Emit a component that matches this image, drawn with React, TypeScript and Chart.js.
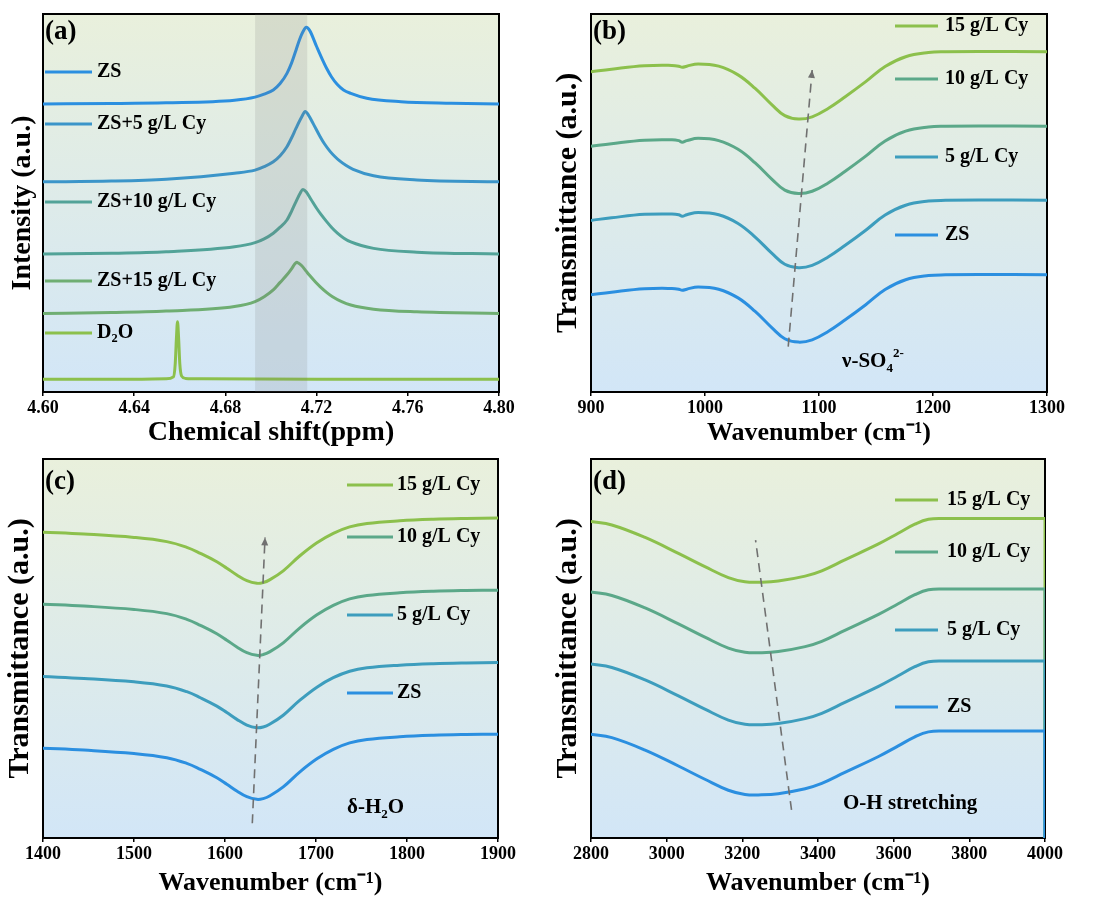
import React, { useEffect, useRef } from "react";
import { Chart, registerables } from "chart.js";

Chart.register(...registerables);

const FONT = '"Liberation Serif", "Times New Roman", serif';

// ---------- (a) 1H NMR ----------
const nmrZsX = [4.6, 4.63, 4.654, 4.684, 4.693, 4.697, 4.701, 4.704, 4.707, 4.709, 4.711, 4.7125, 4.714, 4.7155, 4.717, 4.72, 4.7225, 4.7245, 4.7265, 4.729, 4.7318, 4.735, 4.742, 4.757, 4.779, 4.8];
const nmrZsY = [76.2, 76.3, 76.5, 77.2, 78.0, 78.8, 79.9, 81.6, 84.3, 87.0, 90.5, 93.2, 95.3, 96.5, 95.6, 91.4, 88.0, 85.5, 83.4, 81.4, 79.9, 79.0, 77.7, 76.8, 76.4, 76.2];
const nmrZs5X = [4.6, 4.63, 4.654, 4.684, 4.693, 4.697, 4.701, 4.704, 4.707, 4.709, 4.711, 4.7135, 4.715, 4.7165, 4.7185, 4.7215, 4.7235, 4.726, 4.728, 4.73, 4.733, 4.736, 4.745, 4.764, 4.8];
const nmrZs5Y = [55.6, 55.8, 56.3, 57.9, 58.7, 59.6, 60.9, 62.5, 64.9, 67.2, 69.8, 72.8, 74.2, 73.2, 71.0, 67.6, 65.6, 63.6, 62.3, 61.2, 59.9, 58.9, 57.2, 56.1, 55.6];
const nmrZs10X = [4.6, 4.63, 4.654, 4.684, 4.693, 4.697, 4.701, 4.704, 4.707, 4.709, 4.7106, 4.7128, 4.714, 4.7155, 4.7175, 4.72, 4.722, 4.7245, 4.7265, 4.729, 4.732, 4.735, 4.745, 4.764, 4.8];
const nmrZs10Y = [36.5, 36.7, 37.1, 38.4, 39.5, 40.5, 42.0, 43.6, 45.5, 47.8, 49.9, 52.6, 53.6, 52.9, 51.0, 48.6, 46.9, 45.0, 43.6, 42.1, 40.7, 39.7, 38.0, 37.0, 36.5];
const nmrZs15X = [4.6, 4.63, 4.654, 4.684, 4.693, 4.697, 4.701, 4.704, 4.707, 4.709, 4.7105, 4.7113, 4.712, 4.7135, 4.7155, 4.717, 4.7195, 4.7215, 4.7245, 4.727, 4.731, 4.735, 4.745, 4.764, 4.8];
const nmrZs15Y = [20.8, 21.0, 21.4, 22.6, 23.9, 25.2, 27.0, 29.0, 31.0, 32.6, 33.9, 34.3, 34.1, 33.4, 31.9, 30.8, 29.1, 27.9, 26.3, 25.2, 23.9, 23.0, 21.9, 21.2, 20.8];
const nmrD2oX = [4.6, 4.64, 4.654, 4.6572, 4.658, 4.6585, 4.659, 4.6595, 4.66, 4.6608, 4.6625, 4.67, 4.72, 4.8];
const nmrD2oY = [3.4, 3.4, 3.5, 4.0, 7.5, 14.0, 18.6, 14.0, 7.5, 4.2, 3.6, 3.5, 3.4, 3.4];
const nmrBandX = [4.693, 4.716];
const nmrBandY = [100, 100];

// ---------- (b) SO4 ----------
const so4Wn = [900, 918, 947, 971, 977, 980, 984, 994, 1012, 1029, 1044, 1059, 1070, 1082, 1094, 1108, 1123, 1141, 1158, 1176, 1196, 1211, 1240, 1300];
const so4Cy15 = [84.7, 85.4, 86.3, 86.4, 86.2, 85.9, 86.2, 86.8, 86.2, 83.9, 80.3, 75.9, 73.1, 72.2, 72.8, 75.0, 78.1, 82.1, 86.1, 88.7, 89.8, 90.0, 90.1, 90.0];
const so4Cy10 = [65.0, 65.7, 66.6, 66.7, 66.5, 66.1, 66.5, 67.1, 66.5, 64.2, 60.6, 56.2, 53.4, 52.5, 53.1, 55.3, 58.4, 62.4, 66.4, 69.0, 70.1, 70.3, 70.4, 70.3];
const so4Cy5 = [45.4, 46.1, 47.0, 47.1, 46.9, 46.5, 46.9, 47.5, 46.9, 44.6, 41.0, 36.6, 33.8, 32.9, 33.5, 35.7, 38.8, 42.8, 46.8, 49.4, 50.5, 50.7, 50.8, 50.7];
const so4Zs = [25.7, 26.4, 27.3, 27.4, 27.2, 26.9, 27.2, 27.8, 27.2, 24.9, 21.3, 16.9, 14.1, 13.2, 13.8, 16.0, 19.1, 23.1, 27.1, 29.7, 30.8, 31.0, 31.1, 31.0];
const so4GuideX = [1073, 1094];
const so4GuideY = [12.0, 85.2];

// ---------- (c) H2O bending ----------
const h2oWn = [1400, 1445, 1500, 1536, 1558, 1573, 1591, 1602, 1613, 1624, 1635, 1642, 1649, 1664, 1682, 1701, 1719, 1737, 1756, 1792, 1829, 1865, 1900];
const h2oCy15 = [80.7, 80.2, 79.3, 78.2, 76.7, 75.1, 72.9, 71.2, 69.4, 67.9, 67.2, 67.4, 68.1, 70.5, 74.4, 77.9, 80.4, 82.1, 83.0, 83.7, 84.1, 84.3, 84.4];
const h2oCy10 = [61.7, 61.2, 60.3, 59.2, 57.7, 56.1, 53.9, 52.2, 50.4, 48.9, 48.2, 48.4, 49.1, 51.5, 55.4, 58.9, 61.4, 63.1, 64.0, 64.7, 65.1, 65.3, 65.4];
const h2oCy5 = [42.6, 42.1, 41.2, 40.1, 38.6, 37.0, 34.8, 33.1, 31.3, 29.8, 29.1, 29.3, 30.0, 32.4, 36.3, 39.8, 42.3, 44.0, 44.9, 45.6, 46.0, 46.2, 46.3];
const h2oZs = [23.7, 23.2, 22.3, 21.2, 19.7, 18.1, 15.9, 14.2, 12.4, 10.9, 10.2, 10.4, 11.1, 13.5, 17.4, 20.9, 23.4, 25.1, 26.0, 26.7, 27.1, 27.3, 27.4];
const h2oGuideX = [1630, 1644];
const h2oGuideY = [3.9, 79.3];

// ---------- (d) O-H stretching ----------
const ohWn = [2800, 2855, 2943, 3031, 3101, 3163, 3207, 3251, 3295, 3366, 3410, 3471, 3560, 3612, 3656, 3692, 3736, 4000];
const ohCy15 = [83.5, 82.6, 79.3, 75.1, 71.6, 68.7, 67.6, 67.5, 67.8, 69.1, 70.5, 73.4, 77.6, 80.4, 82.8, 84.1, 84.3, 84.3];
const ohCy10 = [64.9, 64.0, 60.7, 56.5, 53.0, 50.1, 49.0, 48.9, 49.2, 50.5, 51.9, 54.8, 59.0, 61.8, 64.2, 65.5, 65.7, 65.7];
const ohCy5 = [45.9, 45.0, 41.7, 37.5, 34.0, 31.1, 30.0, 29.9, 30.2, 31.5, 32.9, 35.8, 40.0, 42.8, 45.2, 46.5, 46.7, 46.7];
const ohZs = [27.4, 26.5, 23.2, 19.0, 15.5, 12.6, 11.5, 11.4, 11.7, 13.0, 14.4, 17.3, 21.5, 24.3, 26.7, 28.0, 28.2, 28.2];
const ohGuideX = [3330, 3235];
const ohGuideY = [7.4, 78.6];
const ohEdgeX = [4000, 4000];

// ---------- colours ----------
const C_ZS = "#2b8fe0";
const C_5 = "#3d9dbd";
const C_10 = "#5ba889";
const C_15 = "#8cc04c";
const A_ZS5 = "#3b95c9";
const A_ZS10 = "#52a398";
const A_ZS15 = "#6fae72";
const GUIDE = "#707070";

type Run = { t: string; m?: "sub" | "sup" };

const pts = (xs: number[], ys: number[]) => xs.map((x, i) => ({ x, y: ys[i] }));

function curve(label: string, color: string, xs: number[], ys: number[], order = 0, mode = "smooth") {
  const base: any = {
    label,
    data: pts(xs, ys),
    borderColor: color,
    backgroundColor: color,
    borderWidth: 3,
    pointRadius: 0,
    fill: false,
    order,
  };
  if (mode === "monotone") base.cubicInterpolationMode = "monotone";
  else if (mode === "straight") base.tension = 0;
  else base.tension = 0.4;
  return base;
}

function guide(xs: number[], ys: number[]) {
  return {
    label: "guide",
    data: pts(xs, ys),
    borderColor: GUIDE,
    borderWidth: 1.6,
    borderDash: [9, 6],
    pointRadius: 0,
    fill: false,
    tension: 0,
    order: -1,
    isGuide: true,
  };
}

function drawRuns(ctx: CanvasRenderingContext2D, runs: Run[], x: number, y: number, size: number) {
  let cx = x;
  ctx.textAlign = "left";
  ctx.textBaseline = "middle";
  ctx.fillStyle = "#000";
  for (const r of runs) {
    const s = r.m ? size * 0.62 : size;
    ctx.font = `bold ${s}px ${FONT}`;
    const dy = r.m === "sub" ? size * 0.3 : r.m === "sup" ? -size * 0.38 : 0;
    ctx.fillText(r.t, cx, y + dy);
    cx += ctx.measureText(r.t).width;
  }
}

interface PanelCfg {
  left: number;
  top: number;
  w: number;
  h: number;
  area: { l: number; t: number; r: number; b: number };
  xMin: number;
  xMax: number;
  xStep: number;
  xDec: number;
  xTitle: string;
  yTitle: string;
  xTitleSize: number;
  yTitleSize: number;
  xTitlePad: number;
  yTitlePad: number;
  tag: string;
  datasets: any[];
  legend: { x1: number; x2: number; tx: number; items: { runs: Run[]; color: string; y: number }[] };
  notes: { x: number; y: number; runs: Run[] }[];
  arrow: boolean;
}

const LBL_SIZE = 20;
const NOTE_SIZE = 21;

const panels: PanelCfg[] = [
  {
    left: 0, top: 0, w: 547, h: 450,
    area: { l: 43, t: 14, r: 499, b: 392 },
    xMin: 4.6, xMax: 4.8, xStep: 0.04, xDec: 2,
    xTitle: "Chemical shift(ppm)", yTitle: "Intensity (a.u.)",
    xTitleSize: 28, yTitleSize: 28,
    xTitlePad: 3, yTitlePad: 9, tag: "(a)",
    datasets: [
      curve("ZS", C_ZS, nmrZsX, nmrZsY, 0, "monotone"),
      curve("ZS+5 g/L Cy", A_ZS5, nmrZs5X, nmrZs5Y, 0, "monotone"),
      curve("ZS+10 g/L Cy", A_ZS10, nmrZs10X, nmrZs10Y, 0, "monotone"),
      curve("ZS+15 g/L Cy", A_ZS15, nmrZs15X, nmrZs15Y, 0, "monotone"),
      curve("D2O", C_15, nmrD2oX, nmrD2oY, 0, "monotone"),
      {
        label: "band",
        data: pts(nmrBandX, nmrBandY),
        borderWidth: 0,
        borderColor: "rgba(0,0,0,0)",
        backgroundColor: "rgba(120,120,120,0.16)",
        pointRadius: 0,
        fill: "start",
        tension: 0,
        order: -2,
      },
    ],
    legend: {
      x1: 45, x2: 92, tx: 97,
      items: [
        { runs: [{ t: "ZS" }], color: C_ZS, y: 72 },
        { runs: [{ t: "ZS+5 g/L Cy" }], color: A_ZS5, y: 124 },
        { runs: [{ t: "ZS+10 g/L Cy" }], color: A_ZS10, y: 202 },
        { runs: [{ t: "ZS+15 g/L Cy" }], color: A_ZS15, y: 281 },
        { runs: [{ t: "D" }, { t: "2", m: "sub" }, { t: "O" }], color: C_15, y: 333 },
      ],
    },
    notes: [],
    arrow: false,
  },
  {
    left: 547, top: 0, w: 547, h: 450,
    area: { l: 44, t: 14, r: 500, b: 392 },
    xMin: 900, xMax: 1300, xStep: 100, xDec: 0,
    xTitle: "Wavenumber (cm\u207B\u00B9)", yTitle: "Transmittance (a.u.)",
    xTitleSize: 26, yTitleSize: 30,
    xTitlePad: 4, yTitlePad: 6, tag: "(b)",
    datasets: [
      curve("15 g/L Cy", C_15, so4Wn, so4Cy15),
      curve("10 g/L Cy", C_10, so4Wn, so4Cy10),
      curve("5 g/L Cy", C_5, so4Wn, so4Cy5),
      curve("ZS", C_ZS, so4Wn, so4Zs),
      guide(so4GuideX, so4GuideY),
    ],
    legend: {
      x1: 348, x2: 391, tx: 398,
      items: [
        { runs: [{ t: "15 g/L Cy" }], color: C_15, y: 26 },
        { runs: [{ t: "10 g/L Cy" }], color: C_10, y: 79 },
        { runs: [{ t: "5 g/L Cy" }], color: C_5, y: 157 },
        { runs: [{ t: "ZS" }], color: C_ZS, y: 235 },
      ],
    },
    notes: [{ x: 295, y: 362, runs: [{ t: "\u03BD-SO" }, { t: "4", m: "sub" }, { t: "2-", m: "sup" }] }],
    arrow: true,
  },
  {
    left: 0, top: 450, w: 547, h: 452,
    area: { l: 43, t: 9, r: 498, b: 388 },
    xMin: 1400, xMax: 1900, xStep: 100, xDec: 0,
    xTitle: "Wavenumber (cm\u207B\u00B9)", yTitle: "Transmittance (a.u.)",
    xTitleSize: 26, yTitleSize: 30,
    xTitlePad: 6, yTitlePad: 5, tag: "(c)",
    datasets: [
      curve("15 g/L Cy", C_15, h2oWn, h2oCy15),
      curve("10 g/L Cy", C_10, h2oWn, h2oCy10),
      curve("5 g/L Cy", C_5, h2oWn, h2oCy5),
      curve("ZS", C_ZS, h2oWn, h2oZs),
      guide(h2oGuideX, h2oGuideY),
    ],
    legend: {
      x1: 347, x2: 393, tx: 397,
      items: [
        { runs: [{ t: "15 g/L Cy" }], color: C_15, y: 35 },
        { runs: [{ t: "10 g/L Cy" }], color: C_10, y: 87 },
        { runs: [{ t: "5 g/L Cy" }], color: C_5, y: 165 },
        { runs: [{ t: "ZS" }], color: C_ZS, y: 243 },
      ],
    },
    notes: [{ x: 347, y: 358, runs: [{ t: "\u03B4-H" }, { t: "2", m: "sub" }, { t: "O" }] }],
    arrow: true,
  },
  {
    left: 547, top: 450, w: 547, h: 452,
    area: { l: 44, t: 9, r: 498, b: 388 },
    xMin: 2800, xMax: 4000, xStep: 200, xDec: 0,
    xTitle: "Wavenumber (cm\u207B\u00B9)", yTitle: "Transmittance (a.u.)",
    xTitleSize: 26, yTitleSize: 30,
    xTitlePad: 6, yTitlePad: 6, tag: "(d)",
    datasets: [
      curve("15 g/L Cy", C_15, ohWn, ohCy15),
      curve("10 g/L Cy", C_10, ohWn, ohCy10),
      curve("5 g/L Cy", C_5, ohWn, ohCy5),
      curve("ZS", C_ZS, ohWn, ohZs),
      guide(ohGuideX, ohGuideY),
      curve("edge15", C_15, ohEdgeX, [ohCy15[ohCy15.length - 1], 0], 4, "straight"),
      curve("edge10", C_10, ohEdgeX, [ohCy10[ohCy10.length - 1], 0], 3, "straight"),
      curve("edge5", C_5, ohEdgeX, [ohCy5[ohCy5.length - 1], 0], 2, "straight"),
      curve("edgeZS", C_ZS, ohEdgeX, [ohZs[ohZs.length - 1], 0], 1, "straight"),
    ],
    legend: {
      x1: 348, x2: 391, tx: 400,
      items: [
        { runs: [{ t: "15 g/L Cy" }], color: C_15, y: 50 },
        { runs: [{ t: "10 g/L Cy" }], color: C_10, y: 102 },
        { runs: [{ t: "5 g/L Cy" }], color: C_5, y: 180 },
        { runs: [{ t: "ZS" }], color: C_ZS, y: 257 },
      ],
    },
    notes: [{ x: 296, y: 354, runs: [{ t: "O-H stretching" }] }],
    arrow: false,
  },
];

function buildConfig(cfg: PanelCfg): any {
  const { area, w, h } = cfg;
  const bgPlugin = {
    id: "bgGrad",
    beforeDraw(chart: any) {
      const { ctx, chartArea: a } = chart;
      const g = ctx.createLinearGradient(0, a.top, 0, a.bottom);
      g.addColorStop(0, "#e9f0dc");
      g.addColorStop(1, "#d2e6f7");
      ctx.save();
      ctx.fillStyle = g;
      ctx.fillRect(a.left, a.top, a.right - a.left, a.bottom - a.top);
      ctx.restore();
    },
    beforeDatasetsDraw(chart: any) {
      const { ctx, chartArea: a } = chart;
      ctx.save();
      ctx.strokeStyle = "#000";
      ctx.lineWidth = 2;
      ctx.strokeRect(a.left, a.top, a.right - a.left, a.bottom - a.top);
      ctx.restore();
    },
    afterDraw(chart: any) {
      const ctx: CanvasRenderingContext2D = chart.ctx;
      ctx.save();
      drawRuns(ctx, [{ t: cfg.tag }], chart.chartArea.left + 2, 32, 27);
      for (const it of cfg.legend.items) {
        ctx.strokeStyle = it.color;
        ctx.lineWidth = 3;
        ctx.beginPath();
        ctx.moveTo(cfg.legend.x1, it.y);
        ctx.lineTo(cfg.legend.x2, it.y);
        ctx.stroke();
        drawRuns(ctx, it.runs, cfg.legend.tx, it.y, LBL_SIZE);
      }
      for (const n of cfg.notes) drawRuns(ctx, n.runs, n.x, n.y, NOTE_SIZE);
      if (cfg.arrow) {
        chart.data.datasets.forEach((ds: any, i: number) => {
          if (!ds.isGuide) return;
          const el = chart.getDatasetMeta(i).data;
          const p0 = el[el.length - 2];
          const p1 = el[el.length - 1];
          const ang = Math.atan2(p1.y - p0.y, p1.x - p0.x);
          const L = 8, W = 3.5;
          ctx.fillStyle = GUIDE;
          ctx.beginPath();
          ctx.moveTo(p1.x, p1.y);
          ctx.lineTo(p1.x - L * Math.cos(ang) + W * Math.sin(ang), p1.y - L * Math.sin(ang) - W * Math.cos(ang));
          ctx.lineTo(p1.x - L * Math.cos(ang) - W * Math.sin(ang), p1.y - L * Math.sin(ang) + W * Math.cos(ang));
          ctx.closePath();
          ctx.fill();
        });
      }
      ctx.restore();
    },
  };

  return {
    type: "line",
    data: { datasets: cfg.datasets },
    options: {
      animation: false,
      responsive: false,
      devicePixelRatio: 1,
      events: [],
      layout: { padding: { left: 0, top: area.t, right: w - area.r, bottom: 0 } },
      plugins: { legend: { display: false }, tooltip: { enabled: false } },
      scales: {
        x: {
          type: "linear",
          min: cfg.xMin,
          max: cfg.xMax,
          ticks: {
            stepSize: cfg.xStep,
            autoSkip: false,
            maxRotation: 0,
            color: "#000",
            padding: 2,
            font: { family: FONT, size: 18, weight: "bold" },
            callback: (v: any) => Number(v).toFixed(cfg.xDec),
          },
          grid: { display: true, drawOnChartArea: false, drawTicks: true, tickLength: 4, color: "#000", lineWidth: 1.5 },
          border: { display: false },
          title: {
            display: true,
            text: cfg.xTitle,
            color: "#000",
            font: { family: FONT, size: cfg.xTitleSize, weight: "bold", lineHeight: 1 },
            padding: { top: 0, bottom: cfg.xTitlePad },
          },
          afterFit: (s: any) => {
            s.height = h - area.b;
          },
        },
        y: {
          type: "linear",
          min: 0,
          max: 100,
          ticks: { display: false },
          grid: { display: false },
          border: { display: false },
          title: {
            display: true,
            text: cfg.yTitle,
            color: "#000",
            font: { family: FONT, size: cfg.yTitleSize, weight: "bold", lineHeight: 1 },
            padding: { top: cfg.yTitlePad, bottom: 0 },
          },
          afterFit: (s: any) => {
            s.width = area.l;
          },
        },
      },
    },
    plugins: [bgPlugin],
  };
}

function Panel({ cfg }: { cfg: PanelCfg }) {
  const ref = useRef<HTMLCanvasElement>(null);
  useEffect(() => {
    if (!ref.current) return;
    const chart = new Chart(ref.current, buildConfig(cfg));
    return () => chart.destroy();
  }, [cfg]);
  return (
    <canvas
      ref={ref}
      width={cfg.w}
      height={cfg.h}
      style={{ position: "absolute", left: cfg.left, top: cfg.top, width: cfg.w, height: cfg.h }}
    />
  );
}

export default function App() {
  return (
    <div style={{ position: "absolute", left: 0, top: 0, width: 1094, height: 902, background: "#fff", overflow: "hidden" }}>
      {panels.map((p) => (
        <Panel key={p.tag} cfg={p} />
      ))}
    </div>
  );
}
